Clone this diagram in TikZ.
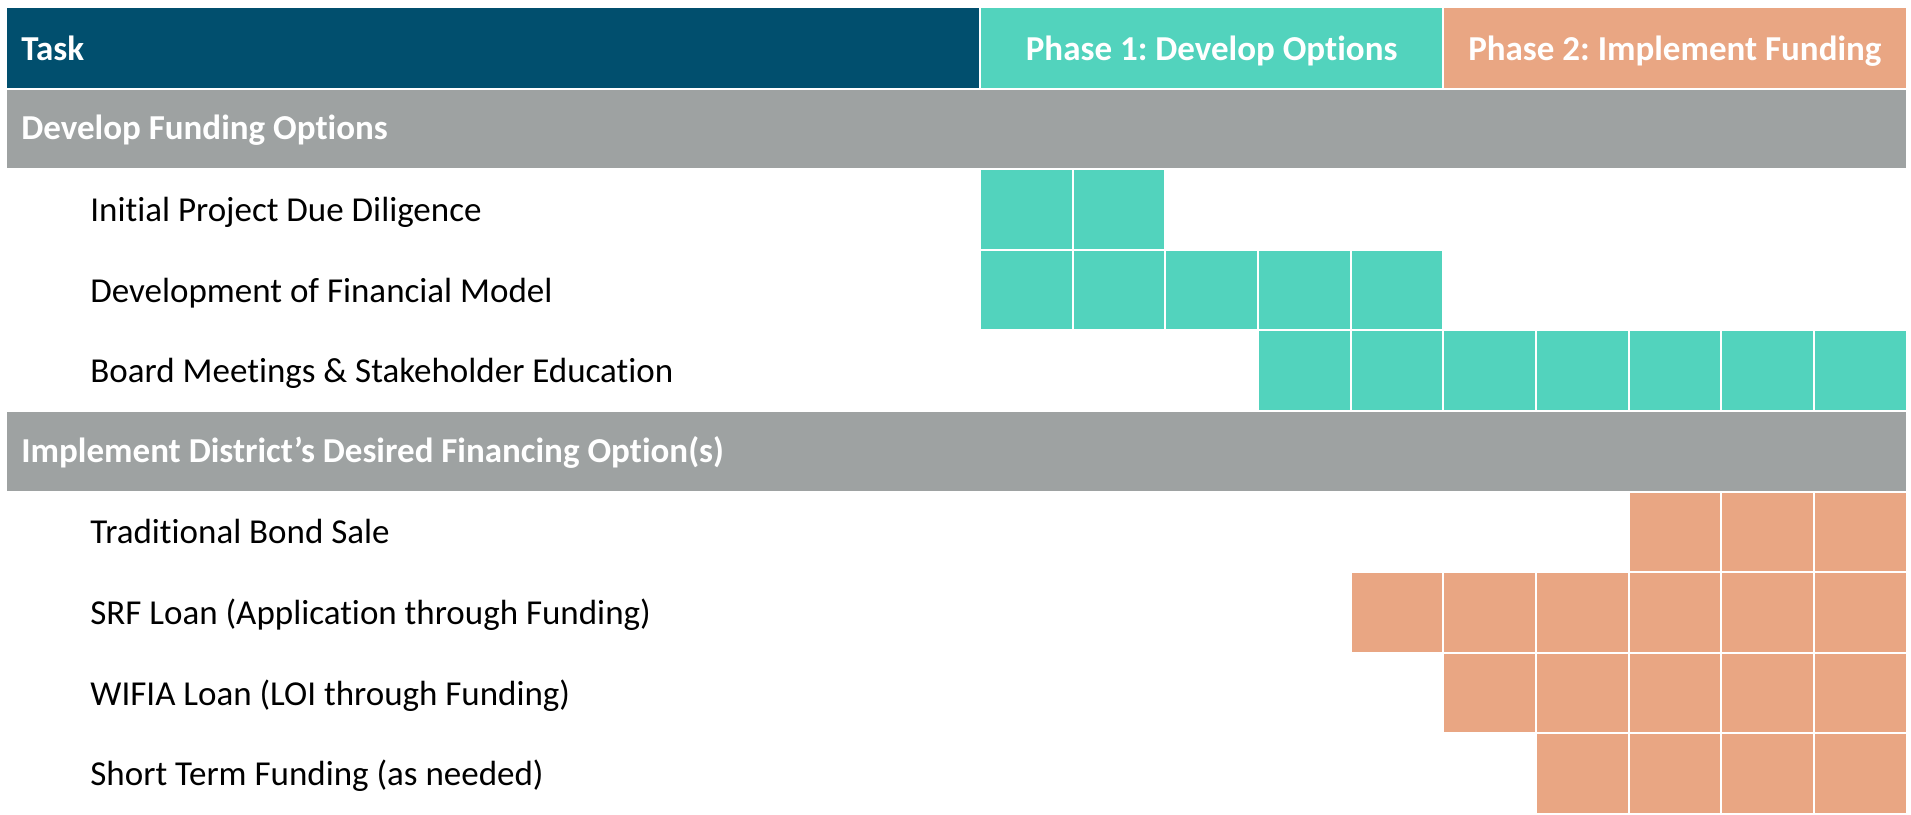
\documentclass[tikz,border=0pt]{standalone}
\usepackage{fontspec}
\setmainfont{Carlito}[RawFeature={-liga}]
\definecolor{hdrblue}{RGB}{1,79,110}
\definecolor{phaseone}{RGB}{82,211,189}
\definecolor{phasetwo}{RGB}{233,166,131}
\definecolor{bargray}{RGB}{158,162,162}
\frenchspacing
\tikzset{
  cell/.style={draw=white, line width=1pt},
  headtext/.style={inner sep=0pt, font=\bfseries\fontsize{17.5}{21}\selectfont, text=white},
  grouptext/.style={inner sep=0pt, anchor=base west, font=\bfseries\fontsize{17.5}{21}\selectfont, text=white},
  tasktext/.style={inner sep=0pt, anchor=base west, font=\fontsize{17.5}{21}\selectfont, text=black}
}
\begin{document}
\begin{tikzpicture}[x=0.5pt, y=-0.5pt]
  \useasboundingbox (0,0) rectangle (1911,814);
  \def\rh{80.6}
  \def\cw{92.65}
  % header row
  \fill[hdrblue, cell] (6,7) rectangle (980,8+\rh);
  \fill[phaseone, cell] (980,7) rectangle (980+5*\cw,8+\rh);
  \fill[phasetwo, cell] (980+5*\cw,7) rectangle (980+10*\cw,8+\rh);
  \node[headtext, anchor=base west] (task) at (21,8+0.5*\rh+12) {Task};
  \node[headtext, anchor=base] (phase1) at (980+2.5*\cw,8+0.5*\rh+12) {Phase 1: Develop Options};
  \node[headtext, anchor=base] (phase2) at (980+7.5*\cw,8+0.5*\rh+12) {Phase 2: Implement Funding};
  % grey group bars
  \fill[bargray, cell] (6,8+\rh) rectangle (980+10*\cw,8+2*\rh);
  \fill[bargray, cell] (6,8+5*\rh) rectangle (980+10*\cw,8+6*\rh);
  \node[grouptext] (dev) at (21,8+1.5*\rh+11) {Develop Funding Options};
  \node[grouptext] (impl) at (21,8+5.5*\rh+11) {Implement District’s Desired Financing Option(s)};
  % task labels
  \node[tasktext] (diligence) at (90,8+2.5*\rh+12) {Initial Project Due Diligence};
  \node[tasktext] (model) at (90,8+3.5*\rh+12) {Development of Financial Model};
  \node[tasktext] (board) at (90,8+4.5*\rh+12) {Board Meetings \& Stakeholder Education};
  \node[tasktext] (bond) at (90,8+6.5*\rh+12) {Traditional Bond Sale};
  \node[tasktext] (srf) at (90,8+7.5*\rh+12) {SRF Loan (Application through Funding)};
  \node[tasktext] (wifia) at (90,8+8.5*\rh+12) {WIFIA Loan (LOI through Funding)};
  \node[tasktext] (short) at (90,8+9.5*\rh+12) {Short Term Funding (as needed)};
  % gantt cells: row/first/last/colour
  \foreach \r/\a/\b/\c in {2/1/2/phaseone, 3/1/5/phaseone, 4/4/10/phaseone,
                           6/8/10/phasetwo, 7/5/10/phasetwo, 8/6/10/phasetwo, 9/7/10/phasetwo}
    \foreach \k in {\a,...,\b}
      \fill[\c, cell] ({980+(\k-1)*\cw},{8+\r*\rh}) rectangle ++(\cw,\rh);
\end{tikzpicture}
\end{document}
